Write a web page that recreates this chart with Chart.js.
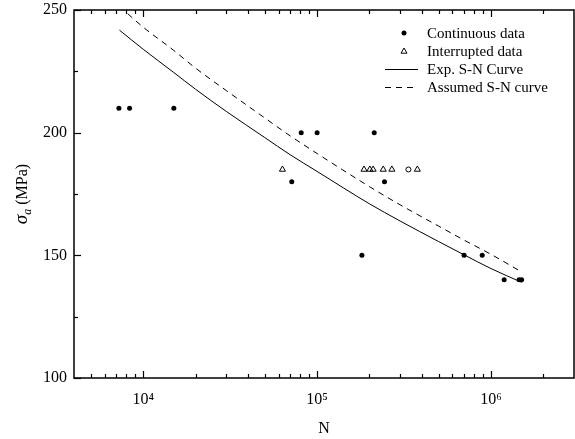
<!DOCTYPE html>
<html><head><meta charset="utf-8">
<script src="https://cdn.jsdelivr.net/npm/chart.js@4/dist/chart.umd.min.js"></script>
<style>html,body{margin:0;padding:0;background:#fff}#wrap{width:575px;height:439px}</style>
</head><body><div id="wrap"><canvas id="c" width="575" height="439"></canvas></div>
<script>
// ---- data ----
const continuousN = [7250, 8350, 15000, 71500, 81000, 100000, 181000, 213000, 244000, 700000, 890000, 1190000, 1450000, 1500000];
const continuousS = [210, 210, 210, 180, 200, 200, 150, 200, 180, 150, 150, 140, 140, 140];
const interruptedN = [63200, 186000, 201000, 210000, 240000, 269000, 335000, 377000];
const interruptedS = [185, 185, 185, 185, 185, 185, 185, 185];
const interruptedMarkers = ['triangle','triangle','triangle','triangle','triangle','triangle','circle','triangle'];
const expCurveN = [7300, 10000, 15000, 20000, 30000, 50000, 70000, 100000, 200000, 300000, 500000, 700000, 1000000, 1500000];
const expCurveS = [241.8, 234, 224.5, 217.7, 208.7, 198, 191, 184.2, 171, 164, 155.6, 150.2, 144.6, 139];
const assumedCurveN = [7300, 10000, 15000, 20000, 30000, 50000, 70000, 100000, 200000, 300000, 500000, 700000, 1000000, 1460000];
const assumedCurveS = [251.5, 243, 233.5, 226.3, 217.2, 206, 198.7, 191.5, 178, 170.6, 161.9, 156.2, 150.4, 143.7];
const xTickLabels = {10000: '10\u2074', 100000: '10\u2075', 1000000: '10\u2076'};
const yTickValues = [100, 150, 200, 250];
const seriesLabels = ['Continuous data', 'Interrupted data', 'Exp. S-N Curve', 'Assumed S-N curve'];
const xTitle = 'N';
const yTitleParts = ['\u03c3', 'a', ' (MPa)'];

const pts = (xs, ys) => xs.map((v, i) => ({x: v, y: ys[i]}));
const FONT = 'Liberation Serif';
Chart.defaults.font.family = FONT;
Chart.defaults.font.size = 16;
Chart.defaults.color = '#000';

const decor = {
  id: 'decor',
  afterDraw(chart) {
    const {ctx, chartArea: a, scales: {x, y}} = chart;
    ctx.save();
    ctx.strokeStyle = '#000';
    const line = (x1, y1, x2, y2) => { ctx.beginPath(); ctx.moveTo(x1, y1); ctx.lineTo(x2, y2); ctx.stroke(); };
    // frame
    ctx.lineWidth = 1.5;
    ctx.strokeRect(a.left, a.top, a.right - a.left, a.bottom - a.top);
    // x ticks (inward, bottom and top)
    ctx.lineWidth = 1.2;
    for (let k = 3; k <= 6; k++) for (let m = 1; m <= 9; m++) {
      const v = m * Math.pow(10, k);
      if (v <= x.min || v >= x.max) continue;
      const px = Math.round(x.getPixelForValue(v)) + 0.5;
      const len = m === 1 ? 7 : 4;
      line(px, a.bottom, px, a.bottom - len);
      line(px, a.top, px, a.top + len);
    }
    // y ticks (inward, left)
    for (let i = 0; i < yTickValues.length; i++) {
      const v = yTickValues[i];
      const py = Math.round(y.getPixelForValue(v)) + 0.5;
      line(a.left, py, a.left + 7, py);
      if (i < yTickValues.length - 1) {
        const mv = (v + yTickValues[i + 1]) / 2;
        const mp = Math.round(y.getPixelForValue(mv)) + 0.5;
        line(a.left, mp, a.left + 4, mp);
      }
    }
    // legend
    const ds = chart.data.datasets;
    const symX = 404, textX = 427, rows = [33, 51, 69, 87];
    ctx.font = '15px "' + FONT + '"';
    ctx.textBaseline = 'middle';
    ctx.textAlign = 'left';
    ctx.fillStyle = '#000';
    ds.forEach((d, i) => {
      const ry = rows[i];
      if (i === 0) {
        ctx.beginPath(); ctx.arc(symX, ry, 2.5, 0, Math.PI * 2); ctx.fill();
      } else if (i === 1) {
        ctx.lineWidth = 1;
        ctx.beginPath(); ctx.moveTo(symX, ry - 3); ctx.lineTo(symX + 3, ry + 2.2); ctx.lineTo(symX - 3, ry + 2.2); ctx.closePath(); ctx.stroke();
      } else {
        ctx.lineWidth = 1;
        ctx.setLineDash(d.borderDash || []);
        line(385, ry + 0.5, 418, ry + 0.5);
        ctx.setLineDash([]);
      }
      ctx.fillText(d.label, textX, ry + 1);
    });
    // y title
    ctx.translate(27, 194);
    ctx.rotate(-Math.PI / 2);
    const f1 = 'italic 19px "' + FONT + '"', f2 = 'italic 12px "' + FONT + '"', f3 = '16px "' + FONT + '"';
    ctx.font = f1; const w1 = ctx.measureText(yTitleParts[0]).width;
    ctx.font = f2; const w2 = ctx.measureText(yTitleParts[1]).width;
    ctx.font = f3; const w3 = ctx.measureText(yTitleParts[2]).width;
    let sx = -(w1 + w2 + w3) / 2;
    ctx.textBaseline = 'alphabetic';
    ctx.font = f1; ctx.fillText(yTitleParts[0], sx, 0); sx += w1;
    ctx.font = f2; ctx.fillText(yTitleParts[1], sx, 4); sx += w2;
    ctx.font = f3; ctx.fillText(yTitleParts[2], sx, 0);
    ctx.restore();
  }
};

new Chart(document.getElementById('c'), {
  type: 'scatter',
  data: {
    datasets: [
      {label: seriesLabels[0], data: pts(continuousN, continuousS), pointStyle: 'circle', pointRadius: 2.5,
       backgroundColor: '#000', borderColor: '#000', borderWidth: 0},
      {label: seriesLabels[1], data: pts(interruptedN, interruptedS), pointStyle: interruptedMarkers,
       pointRadius: interruptedMarkers.map(m => m === 'circle' ? 2.5 : 3.5),
       backgroundColor: 'rgba(0,0,0,0)', borderColor: '#000', borderWidth: 1},
      {label: seriesLabels[2], data: pts(expCurveN, expCurveS), showLine: true, pointRadius: 0,
       borderColor: '#000', borderWidth: 1, cubicInterpolationMode: 'monotone'},
      {label: seriesLabels[3], data: pts(assumedCurveN, assumedCurveS), showLine: true, pointRadius: 0,
       borderColor: '#000', borderWidth: 1, borderDash: [6, 5], cubicInterpolationMode: 'monotone'}
    ]
  },
  options: {
    responsive: false,
    animation: false,
    devicePixelRatio: 1,
    layout: {autoPadding: false, padding: {top: 10, right: 1, left: 0, bottom: 0}},
    plugins: {legend: {display: false}, tooltip: {enabled: false}},
    scales: {
      x: {
        type: 'logarithmic', min: 4000, max: 3000000,
        grid: {display: false, drawTicks: false},
        border: {display: false},
        ticks: {autoSkip: false, maxRotation: 0, padding: 12, font: {size: 16},
                callback: (v) => xTickLabels[v] || ''},
        title: {display: true, text: xTitle, font: {size: 16}, padding: {top: 0, bottom: 1}},
        afterFit: (s) => { s.height = 61; s.paddingLeft = 0; s.paddingRight = 0; }
      },
      y: {
        type: 'linear', min: 100, max: 250,
        grid: {display: false, drawTicks: false},
        border: {display: false},
        ticks: {stepSize: 50, padding: 7, font: {size: 16}},
        afterFit: (s) => { s.width = 74; s.paddingTop = 0; s.paddingBottom = 0; }
      }
    }
  },
  plugins: [decor]
});
</script>
</body></html>
